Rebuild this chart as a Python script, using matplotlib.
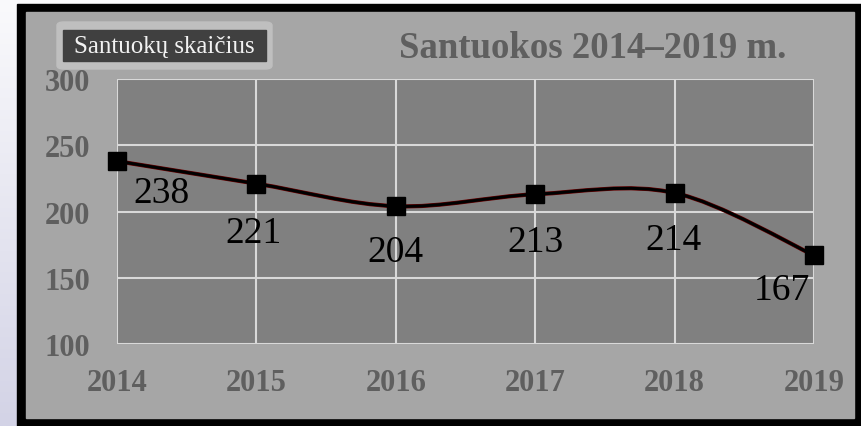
import matplotlib.pyplot as plt
import numpy as np
from matplotlib.path import Path
from matplotlib.patches import PathPatch, Rectangle, FancyBboxPatch

years = [2014, 2015, 2016, 2017, 2018, 2019]
marriages = [238, 221, 204, 213, 214, 167]
y_ticks = [100, 150, 200, 250, 300]
title = "Santuokos 2014–2019 m."
legend_label = "Santuokų skaičius"

# label offsets in points (edge labels are pushed inwards like in Excel)
label_offsets = [(32, -23), (-2, -35), (0, -33), (0, -34), (-1, -34), (-23, -25)]

W, H = 861, 427
plt.rcParams['font.family'] = ['Liberation Serif', 'DejaVu Serif']
fig = plt.figure(figsize=(W / 100, H / 100), dpi=100)


def px(x0, y0, x1, y1):
    # pixel box (top-left origin) -> figure fraction rect
    return [x0 / W, 1 - y1 / H, (x1 - x0) / W, (y1 - y0) / H]


# page background: soft white -> lavender gradient
bg = fig.add_axes([0, 0, 1, 1], zorder=-10)
grad = np.linspace(0, 1, 200).reshape(-1, 1)
bg.imshow(grad, aspect='auto', extent=[0, 1, 0, 1], cmap=plt.matplotlib.colors.LinearSegmentedColormap.from_list(
    'g', ['#fafafc', '#d3d3e6']), origin='upper')
bg.axis('off')

# black frame and gray panel
r = px(17, 5, 861, 427)
fig.patches.append(Rectangle((r[0], r[1]), r[2], r[3], transform=fig.transFigure, color='black', zorder=-5))
r = px(26, 13, 854, 419)
fig.patches.append(Rectangle((r[0], r[1]), r[2], r[3], transform=fig.transFigure, color='#a6a6a6', zorder=-4))

ax = fig.add_axes(px(117, 80, 814, 345))
ax.set_facecolor('#808080')
ax.set_xlim(2014, 2019)
ax.set_ylim(100, 300)
ax.set_xticks(years)
ax.set_yticks(y_ticks)
ax.grid(True, color='#d9d9d9', lw=1.5)
ax.set_axisbelow(True)
for s in ax.spines.values():
    s.set_visible(False)
ax.tick_params(length=0, labelsize=22, labelcolor='#5f5f5f')
ax.tick_params(axis='y', pad=19)
ax.tick_params(axis='x', pad=17)
for t in ax.get_xticklabels() + ax.get_yticklabels():
    t.set_fontweight('bold')

# smoothed line (Bezier through points, Excel-like)
pts = np.column_stack([years, marriages]).astype(float)
ext = np.vstack([pts[0], pts, pts[-1]])
verts = [pts[0]]
codes = [Path.MOVETO]
for i in range(len(pts) - 1):
    p0, p1, p2, p3 = ext[i], ext[i + 1], ext[i + 2], ext[i + 3]
    verts += [p1 + (p2 - p0) / 6, p2 - (p3 - p1) / 6, p2]
    codes += [Path.CURVE4] * 3
path = Path(verts, codes)
ax.add_patch(PathPatch(path, fill=False, ec='#6b0000', lw=3.0, zorder=3))
ax.add_patch(PathPatch(path, fill=False, ec='black', lw=2.2, zorder=3))
ax.plot(years, marriages, ls='none', marker='s', ms=13.5, color='black', zorder=4, clip_on=False)

for x, y, off in zip(years, marriages, label_offsets):
    ax.annotate(str(y), (x, y), xytext=off, textcoords='offset points',
                ha='center', va='center', fontsize=27, color='black', zorder=5)

# title
fig.text(593 / W, 1 - 49 / H, title, ha='center', va='center', fontsize=26.5,
         fontweight='bold', color='#5f5f5f')

# legend box
r = px(57, 23, 272, 70)
fig.patches.append(FancyBboxPatch((r[0], r[1]), r[2], r[3], boxstyle='round,pad=0,rounding_size=0.008',
                                  transform=fig.transFigure, color='#bfbfbf', zorder=1))
r = px(63, 31, 266, 62)
fig.patches.append(Rectangle((r[0], r[1]), r[2], r[3], transform=fig.transFigure, color='#404040', zorder=2))
fig.text(164.5 / W, 1 - 47 / H, legend_label, ha='center', va='center', fontsize=18,
         color='#f2f2f2', zorder=3)

fig.savefig('out.png', dpi=100)
